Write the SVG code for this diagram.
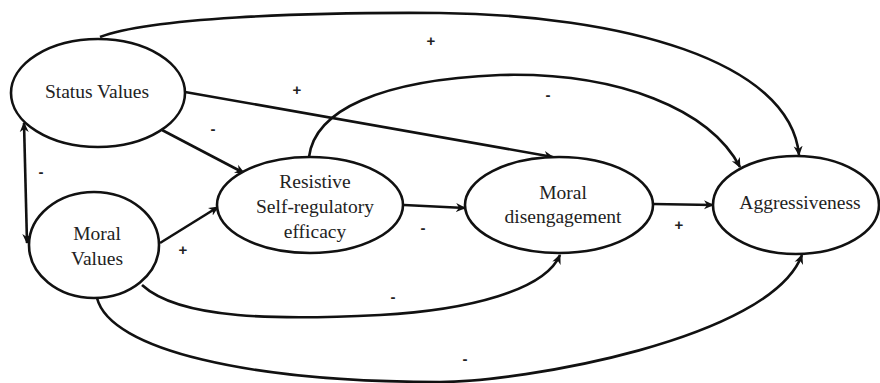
<svg xmlns="http://www.w3.org/2000/svg" width="880" height="383" viewBox="0 0 880 383">
<defs>
<marker id="arr" viewBox="0 0 10 10" refX="9" refY="5" markerWidth="10" markerHeight="10" markerUnits="userSpaceOnUse" orient="auto-start-reverse">
<path d="M0,0.5 L10,5 L0,9.5 L3,5 Z" fill="#111"/>
</marker>
<style>
.n{fill:#fff;stroke:#111;stroke-width:2.6}
.t{font-family:'Liberation Serif','DejaVu Serif',serif;font-size:19.5px;fill:#222;text-anchor:middle}
.c{fill:none;stroke:#111;stroke-width:2.6}
.s{font-family:'Liberation Sans',Arial,sans-serif;font-size:15px;font-weight:bold;fill:#222;text-anchor:middle}
</style>
</defs>
<rect width="880" height="383" fill="#fff"/>
<g id="connectors">
<path class="c" d="M100,37 C150,18 300,12 440,13 C620,15 790,60 799,155" marker-end="url(#arr)"/>
<path class="c" d="M185,92 L553,157" marker-end="url(#arr)"/>
<path class="c" d="M162,130 L244,173" marker-end="url(#arr)"/>
<path class="c" d="M24,123 L27,243" marker-start="url(#arr)" marker-end="url(#arr)"/>
<path class="c" d="M309,157 C315,110 380,80 500,75 C620,72 710,110 740,167" marker-end="url(#arr)"/>
<path class="c" d="M404,205 L465,208" marker-end="url(#arr)"/>
<path class="c" d="M653,204 L713,205" marker-end="url(#arr)"/>
<path class="c" d="M160,243 L218,207" marker-end="url(#arr)"/>
<path class="c" d="M142,285 C180,320 280,320 380,315 C470,310 545,290 560,255" marker-end="url(#arr)"/>
<path class="c" d="M97,298 C110,350 250,382 440,382 C520,382 770,340 802,255" marker-end="url(#arr)"/>
<text class="s" x="431" y="46">+</text>
<text class="s" x="297" y="95">+</text>
<text class="s" x="213" y="134">-</text>
<text class="s" x="41" y="177">-</text>
<text class="s" x="548" y="100">-</text>
<text class="s" x="423" y="233">-</text>
<text class="s" x="679" y="230">+</text>
<text class="s" x="183" y="255">+</text>
<text class="s" x="393" y="302">-</text>
<text class="s" x="465" y="364">-</text>
</g>
<g id="status-values">
<ellipse class="n" cx="98" cy="93" rx="87" ry="54"/>
<text class="t" font-family="Liberation Serif, serif" x="97" y="98">Status Values</text>
</g>
<g id="moral-values">
<ellipse class="n" cx="94" cy="245" rx="65" ry="53"/>
<text class="t" font-family="Liberation Serif, serif" x="97" y="240">Moral</text>
<text class="t" font-family="Liberation Serif, serif" x="97" y="265">Values</text>
</g>
<g id="resistive">
<ellipse class="n" cx="310" cy="205" rx="93" ry="48"/>
<text class="t" font-family="Liberation Serif, serif" x="315" y="188">Resistive</text>
<text class="t" font-family="Liberation Serif, serif" x="315" y="213">Self-regulatory</text>
<text class="t" font-family="Liberation Serif, serif" x="315" y="238">efficacy</text>
</g>
<g id="moral-disengagement">
<ellipse class="n" cx="559" cy="205" rx="94" ry="48"/>
<text class="t" font-family="Liberation Serif, serif" x="563" y="199">Moral</text>
<text class="t" font-family="Liberation Serif, serif" x="563" y="223">disengagement</text>
</g>
<g id="aggressiveness">
<ellipse class="n" cx="796" cy="205" rx="83" ry="49"/>
<text class="t" font-family="Liberation Serif, serif" x="800" y="209">Aggressiveness</text>
</g>
</svg>
